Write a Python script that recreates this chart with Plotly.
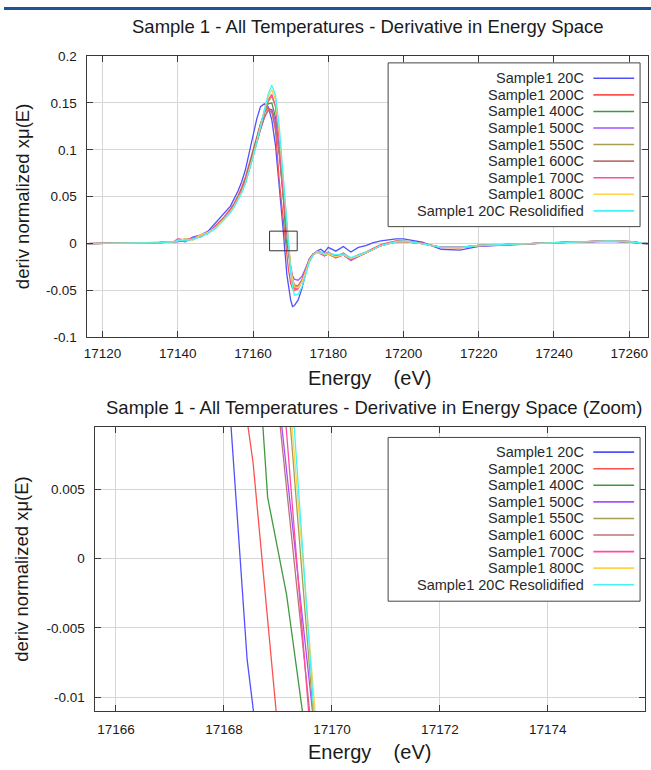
import plotly.graph_objects as go

# ---------------- data ----------------
NAMES = ["Sample1 20C", "Sample1 200C", "Sample1 400C", "Sample1 500C", "Sample1 550C",
         "Sample1 600C", "Sample1 700C", "Sample1 800C", "Sample1 20C Resolidified"]
COLORS = ["#5050ff", "#ff5050", "#3f9a3f", "#a650ff", "#a8a050",
          "#c07272", "#ff4ca0", "#ffd24a", "#45f5f5"]

# common energy grid before the edge and after the edge
E_LEAD = [17115, 17125, 17135, 17139, 17140, 17142, 17144, 17146, 17148, 17150, 17152, 17154,
          17155, 17156, 17157, 17158, 17159, 17160, 17161, 17162, 17163, 17164, 17165, 17166]
E_TAIL = [17171, 17172, 17173, 17174, 17175, 17176, 17177, 17178, 17179, 17180, 17182, 17184,
          17186, 17188, 17190, 17192, 17194, 17196, 17198, 17200, 17205, 17210, 17215, 17220,
          17230, 17240, 17250, 17255, 17260, 17265]

# Sample1 20C
Y_LEAD_20C = [0.0, 0.0005, 0.001, 0.0015, 0.004, 0.002, 0.007, 0.009, 0.013, 0.022, 0.030, 0.040,
              0.048, 0.056, 0.066, 0.079, 0.097, 0.116, 0.133, 0.146, 0.149, 0.146, 0.132, 0.104]
EDGE_E_20C = [17167, 17168.13, 17168.43, 17168.55, 17169, 17170, 17170.5]
EDGE_Y_20C = [0.062, 0.0096, -0.0073, -0.0111, -0.033, -0.060, -0.067]
Y_TAIL_20C = [-0.066, -0.060, -0.048, -0.032, -0.018, -0.012, -0.008, -0.006, -0.009, -0.004,
              -0.008, -0.003, -0.009, -0.004, -0.002, 0.001, 0.003, 0.004, 0.005, 0.005,
              0.0015, -0.006, -0.007, -0.003, -0.001, 0.001, 0.002, 0.0025, 0.0015, -0.0005]

# Sample1 200C
Y_LEAD_200C = [0.0, 0.0005, 0.001, 0.002, 0.005, 0.003, 0.005, 0.009, 0.011, 0.019, 0.027, 0.037,
               0.043, 0.051, 0.060, 0.071, 0.085, 0.100, 0.114, 0.128, 0.139, 0.145, 0.142, 0.120]
EDGE_E_200C = [17167, 17168.2, 17168.54, 17169.0, 17169.4, 17170, 17170.5]
EDGE_Y_200C = [0.066, 0.0163, 0.0069, -0.0124, -0.027, -0.042, -0.048]
Y_TAIL_200C = [-0.050, -0.048, -0.040, -0.029, -0.017, -0.011, -0.008, -0.009, -0.011, -0.009,
               -0.014, -0.010, -0.016, -0.012, -0.009, -0.005, -0.001, 0.001, 0.003, 0.003,
               0.0005, -0.004, -0.0045, -0.002, -0.0005, 0.0015, 0.0025, 0.003, 0.002, 0.0]

# Sample1 400C
Y_LEAD_400C = [0.0, 0.0005, 0.001, 0.002, 0.003, 0.005, 0.004, 0.008, 0.012, 0.017, 0.026, 0.035,
               0.042, 0.049, 0.057, 0.068, 0.082, 0.097, 0.112, 0.127, 0.140, 0.149, 0.150, 0.134]
EDGE_E_400C = [17167, 17168, 17168.45, 17168.81, 17169.16, 17169.51, 17170, 17170.5]
EDGE_Y_400C = [0.098, 0.052, 0.0253, 0.0044, -0.0026, -0.0131, -0.030, -0.041]
Y_TAIL_400C = [-0.047, -0.045, -0.039, -0.028, -0.017, -0.011, -0.009, -0.010, -0.012, -0.010,
               -0.013, -0.011, -0.017, -0.013, -0.010, -0.006, -0.002, 0.0, 0.002, 0.0025,
               0.0, -0.004, -0.004, -0.002, -0.0005, 0.0015, 0.0025, 0.003, 0.002, 0.0]

# Sample1 500C
Y_LEAD_500C = [0.0, 0.0005, 0.001, 0.002, 0.002, 0.004, 0.006, 0.007, 0.012, 0.018, 0.025, 0.035,
               0.041, 0.048, 0.056, 0.066, 0.079, 0.094, 0.108, 0.122, 0.134, 0.142, 0.143, 0.130]
EDGE_E_500C = [17167, 17168, 17169.07, 17169.65, 17170, 17170.5]
EDGE_Y_500C = [0.097, 0.052, 0.0096, -0.0111, -0.024, -0.034]
Y_TAIL_500C = [-0.038, -0.039, -0.035, -0.026, -0.016, -0.011, -0.009, -0.011, -0.013, -0.011,
               -0.015, -0.012, -0.018, -0.014, -0.010, -0.006, -0.002, 0.0, 0.002, 0.0025,
               0.0, -0.004, -0.004, -0.0025, -0.0005, 0.001, 0.0025, 0.003, 0.0025, 0.0]

# Sample1 550C
Y_LEAD_550C = [0.0, 0.0005, 0.001, 0.002, 0.003, 0.004, 0.005, 0.009, 0.011, 0.017, 0.025, 0.034,
               0.040, 0.047, 0.055, 0.065, 0.078, 0.093, 0.108, 0.124, 0.139, 0.151, 0.157, 0.146]
EDGE_E_550C = [17167, 17168, 17169.23, 17169.65, 17170, 17170.5]
EDGE_Y_550C = [0.112, 0.066, 0.0096, -0.0111, -0.026, -0.038]
Y_TAIL_550C = [-0.045, -0.046, -0.040, -0.029, -0.018, -0.012, -0.009, -0.010, -0.012, -0.010,
               -0.014, -0.011, -0.016, -0.013, -0.010, -0.006, -0.002, 0.0, 0.002, 0.0025,
               0.0, -0.004, -0.0042, -0.002, -0.0005, 0.0015, 0.0025, 0.003, 0.002, 0.0]

# Sample1 600C
Y_LEAD_600C = [0.0, 0.0005, 0.001, 0.002, 0.004, 0.003, 0.006, 0.008, 0.011, 0.018, 0.026, 0.036,
               0.042, 0.049, 0.057, 0.068, 0.081, 0.095, 0.109, 0.123, 0.135, 0.142, 0.140, 0.124]
EDGE_E_600C = [17167, 17168, 17169.04, 17169.59, 17170, 17170.5]
EDGE_Y_600C = [0.094, 0.052, 0.0096, -0.0111, -0.026, -0.037]
Y_TAIL_600C = [-0.044, -0.045, -0.039, -0.028, -0.017, -0.011, -0.009, -0.010, -0.013, -0.011,
               -0.015, -0.012, -0.017, -0.013, -0.010, -0.006, -0.002, 0.0, 0.002, 0.0025,
               0.0, -0.0038, -0.004, -0.002, -0.0005, 0.0015, 0.0025, 0.003, 0.002, 0.0]

# Sample1 700C
Y_LEAD_700C = [0.0, 0.0005, 0.001, 0.002, 0.005, 0.004, 0.006, 0.008, 0.012, 0.018, 0.026, 0.035,
               0.041, 0.048, 0.056, 0.066, 0.079, 0.094, 0.110, 0.126, 0.141, 0.153, 0.159, 0.146]
EDGE_E_700C = [17167, 17168, 17169.15, 17169.57, 17170, 17170.5]
EDGE_Y_700C = [0.110, 0.064, 0.0096, -0.0111, -0.029, -0.041]
Y_TAIL_700C = [-0.048, -0.047, -0.040, -0.029, -0.018, -0.012, -0.009, -0.010, -0.013, -0.010,
               -0.014, -0.012, -0.017, -0.012, -0.010, -0.006, -0.002, 0.0, 0.002, 0.0025,
               0.0, -0.004, -0.004, -0.002, -0.0005, 0.0015, 0.0025, 0.003, 0.002, 0.0]

# Sample1 800C
Y_LEAD_800C = [0.0, 0.0005, 0.001, 0.002, 0.003, 0.005, 0.004, 0.009, 0.012, 0.017, 0.025, 0.034,
               0.040, 0.047, 0.055, 0.065, 0.078, 0.093, 0.109, 0.126, 0.142, 0.156, 0.164, 0.153]
EDGE_E_800C = [17167, 17168, 17169.26, 17169.69, 17170, 17170.5]
EDGE_Y_800C = [0.118, 0.070, 0.0096, -0.0111, -0.025, -0.038]
Y_TAIL_800C = [-0.046, -0.047, -0.041, -0.030, -0.018, -0.012, -0.010, -0.010, -0.012, -0.011,
               -0.014, -0.012, -0.016, -0.013, -0.010, -0.006, -0.002, 0.0, 0.002, 0.0025,
               0.0, -0.004, -0.0042, -0.002, -0.0005, 0.0015, 0.0025, 0.003, 0.002, 0.0]

# Sample1 20C Resolidified
Y_LEAD_RES = [0.0, 0.0005, 0.001, 0.002, 0.004, 0.003, 0.005, 0.007, 0.011, 0.016, 0.024, 0.033,
              0.039, 0.046, 0.054, 0.064, 0.077, 0.092, 0.108, 0.125, 0.143, 0.159, 0.169, 0.158]
EDGE_E_RES = [17167, 17168, 17169.30, 17169.66, 17170, 17170.5]
EDGE_Y_RES = [0.124, 0.076, 0.0096, -0.0111, -0.030, -0.046]
Y_TAIL_RES = [-0.055, -0.054, -0.046, -0.033, -0.020, -0.012, -0.008, -0.009, -0.011, -0.010,
              -0.012, -0.011, -0.015, -0.012, -0.009, -0.006, -0.002, 0.0, 0.002, 0.003,
              0.0, -0.004, -0.004, -0.002, -0.0005, 0.0015, 0.0025, 0.003, 0.002, 0.0]

Y_LEADS = [Y_LEAD_20C, Y_LEAD_200C, Y_LEAD_400C, Y_LEAD_500C, Y_LEAD_550C,
           Y_LEAD_600C, Y_LEAD_700C, Y_LEAD_800C, Y_LEAD_RES]
EDGE_ES = [EDGE_E_20C, EDGE_E_200C, EDGE_E_400C, EDGE_E_500C, EDGE_E_550C,
           EDGE_E_600C, EDGE_E_700C, EDGE_E_800C, EDGE_E_RES]
EDGE_YS = [EDGE_Y_20C, EDGE_Y_200C, EDGE_Y_400C, EDGE_Y_500C, EDGE_Y_550C,
           EDGE_Y_600C, EDGE_Y_700C, EDGE_Y_800C, EDGE_Y_RES]
Y_TAILS = [Y_TAIL_20C, Y_TAIL_200C, Y_TAIL_400C, Y_TAIL_500C, Y_TAIL_550C,
           Y_TAIL_600C, Y_TAIL_700C, Y_TAIL_800C, Y_TAIL_RES]

TOP_XTICKS = [17120, 17140, 17160, 17180, 17200, 17220, 17240, 17260]
TOP_YTICKS = [0.2, 0.15, 0.1, 0.05, 0, -0.05, -0.1]
TOP_YTICKTEXT = ["0.2", "0.15", "0.1", "0.05", "0", "-0.05", "-0.1"]
BOT_XTICKS = [17166, 17168, 17170, 17172, 17174]
BOT_YTICKS = [0.005, 0, -0.005, -0.01]
BOT_YTICKTEXT = ["0.005", "0", "-0.005", "-0.01"]
ZOOM_BOX_X = [17164.4, 17171.75]
ZOOM_BOX_Y = [-0.0076, 0.0133]

TITLE_TOP = "Sample 1 - All Temperatures - Derivative in Energy Space"
TITLE_BOT = "Sample 1 - All Temperatures - Derivative in Energy Space (Zoom)"
XLABEL = "Energy\u00a0\u00a0\u00a0\u00a0(eV)"
YLABEL = "deriv normalized x\u03bc(E)"

# ---------------- figure ----------------
W, H = 651, 770
FONT = "Liberation Sans, Arial, sans-serif"


def px(x):
    return x / W


def py(y):
    return 1 - y / H


fig = go.Figure()
for i, name in enumerate(NAMES):
    xs = E_LEAD + EDGE_ES[i] + E_TAIL
    ys = Y_LEADS[i] + EDGE_YS[i] + Y_TAILS[i]
    for xa, ya in (("x", "y"), ("x2", "y2")):
        fig.add_trace(go.Scatter(x=xs, y=ys, mode="lines", name=name, xaxis=xa, yaxis=ya,
                                 line=dict(color=COLORS[i], width=1.3), showlegend=False,
                                 hoverinfo="skip"))

axis_common = dict(showgrid=True, gridcolor="#d6d6d6", gridwidth=1.3, zeroline=False,
                   showline=True, linecolor="#3a3a3a", linewidth=1, mirror="ticks",
                   ticks="inside", ticklen=6, tickcolor="#3a3a3a", tickwidth=1,
                   tickfont=dict(family=FONT, size=13.5, color="#1a1a1a"))

fig.update_layout(
    width=W, height=H, margin=dict(l=0, r=0, t=0, b=0),
    paper_bgcolor="white", plot_bgcolor="white", showlegend=False,
    xaxis=dict(domain=[px(84), px(648)], range=[17116, 17265], anchor="y",
               ticklabelstandoff=3,
               tickvals=TOP_XTICKS, ticktext=[str(v) for v in TOP_XTICKS], **axis_common),
    yaxis=dict(domain=[py(337), py(50)], range=[-0.1, 0.2], anchor="x",
               ticklabelstandoff=7,
               tickvals=TOP_YTICKS, ticktext=TOP_YTICKTEXT, **axis_common),
    xaxis2=dict(domain=[px(92), px(645)], range=[17165.62, 17175.8], anchor="y2",
                ticklabelstandoff=6,
                tickvals=BOT_XTICKS, ticktext=[str(v) for v in BOT_XTICKS], **axis_common),
    yaxis2=dict(domain=[py(718), py(428)], range=[-0.011, 0.0095], anchor="x2",
                ticklabelstandoff=7,
                tickvals=BOT_YTICKS, ticktext=BOT_YTICKTEXT, **axis_common),
)

shapes = []
annotations = []

# top banner bar
shapes.append(dict(type="rect", xref="paper", yref="paper", x0=0, x1=1, y0=py(3), y1=1,
                   fillcolor="#1c539b", line=dict(width=0), layer="above"))

# zoom marker box in the top plot
shapes.append(dict(type="rect", xref="x", yref="y", x0=ZOOM_BOX_X[0], x1=ZOOM_BOX_X[1],
                   y0=ZOOM_BOX_Y[0], y1=ZOOM_BOX_Y[1], line=dict(color="#333", width=1),
                   layer="above"))

# titles
annotations.append(dict(text=TITLE_TOP, x=px(366), y=py(20), xref="paper", yref="paper",
                        showarrow=False, xanchor="center", yanchor="middle",
                        font=dict(family=FONT, size=18.5, color="#1a1a1a")))
annotations.append(dict(text=TITLE_BOT, x=px(372), y=py(408), xref="paper", yref="paper",
                        showarrow=False, xanchor="center", yanchor="middle",
                        font=dict(family=FONT, size=18.5, color="#1a1a1a")))
# axis titles
for yy in (378, 760):
    annotations.append(dict(text=XLABEL, x=px(368), y=py(yy), xref="paper", yref="paper",
                            showarrow=False, xanchor="center", yanchor="middle",
                            font=dict(family=FONT, size=20, color="#1a1a1a")))
for yy in (193, 573):
    annotations.append(dict(text=YLABEL, x=px(18), y=py(yy), xref="paper", yref="paper",
                            showarrow=False, xanchor="center", yanchor="middle", textangle=-90,
                            font=dict(family=FONT, size=18.5, color="#1a1a1a")))

# manual legends (text right-aligned, line sample on the right)
for box_top, box_bot, first_row in ((57, 224, 72.7), (439, 606, 454)):
    shapes.append(dict(type="rect", xref="paper", yref="paper", x0=px(386.5), x1=px(640),
                       y0=py(box_bot), y1=py(box_top), fillcolor="white",
                       line=dict(color="#444", width=1), layer="above"))
    for i, name in enumerate(NAMES):
        yrow = first_row + i * 16.9
        annotations.append(dict(text=name, x=px(586), y=py(yrow), xref="paper", yref="paper",
                                showarrow=False, xanchor="right", yanchor="middle",
                                font=dict(family=FONT, size=14.5, color="#2a2a2a")))
        shapes.append(dict(type="line", xref="paper", yref="paper", x0=px(593), x1=px(634),
                           y0=py(yrow), y1=py(yrow), line=dict(color=COLORS[i], width=1.6),
                           layer="above"))

fig.update_layout(shapes=shapes, annotations=annotations)
fig.write_html("out.html")
